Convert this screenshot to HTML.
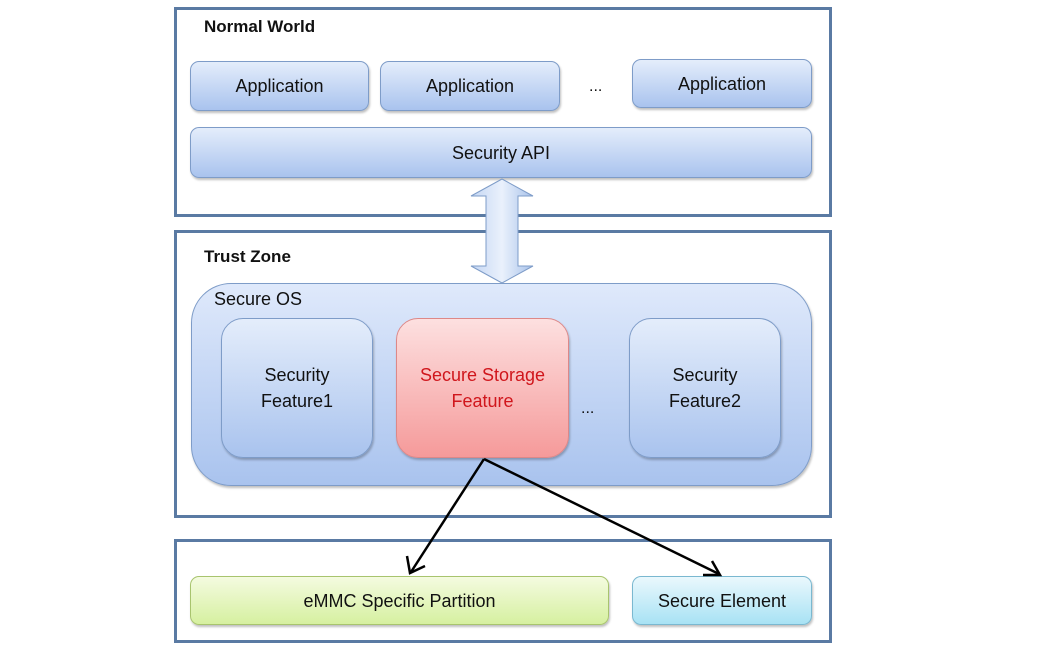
<!DOCTYPE html>
<html><head><style>
body{margin:0;background:#fff;width:1058px;height:650px;position:relative;overflow:hidden;font-family:"Liberation Sans",sans-serif;}
.frame{position:absolute;border:3px solid #5a7aa3;box-sizing:border-box;}
.t{position:absolute;font-weight:bold;font-size:17px;color:#111;}
.b{position:absolute;box-sizing:border-box;border:1px solid #7e9cc8;border-radius:9px;background:linear-gradient(#e4edfb,#a9c3ee);display:flex;align-items:center;justify-content:center;text-align:center;font-size:18px;color:#111;box-shadow:1px 2px 2px rgba(0,0,0,.25);line-height:26px;}
.dots{position:absolute;font-size:16px;color:#111;}
</style></head><body>
<div class="frame" style="left:174px;top:7px;width:658px;height:210px"></div>
<div class="frame" style="left:174px;top:230px;width:658px;height:288px"></div>
<div class="frame" style="left:174px;top:539px;width:658px;height:104px"></div>
<div class="t" style="left:204px;top:17px">Normal World</div>
<div class="t" style="left:204px;top:247px">Trust Zone</div>
<div class="b" style="left:190px;top:61px;width:179px;height:50px">Application</div>
<div class="b" style="left:380px;top:61px;width:180px;height:50px">Application</div>
<div class="dots" style="left:589px;top:78px">...</div>
<div class="b" style="left:632px;top:59px;width:180px;height:49px">Application</div>
<div class="b" style="left:190px;top:127px;width:622px;height:51px">Security API</div>
<div class="b" style="left:191px;top:283px;width:621px;height:203px;border-radius:40px;background:linear-gradient(#dfe9fb,#a9c3ee);"></div>
<div style="position:absolute;left:214px;top:289px;font-size:18px;color:#111">Secure OS</div>
<div class="b" style="left:221px;top:318px;width:152px;height:140px;border-radius:22px">Security<br>Feature1</div>
<div class="b" style="left:396px;top:318px;width:173px;height:140px;border-radius:22px;border-color:#d88;background:linear-gradient(#fde0e0,#f59a9a);color:#d0161c">Secure Storage<br>Feature</div>
<div class="dots" style="left:581px;top:400px">...</div>
<div class="b" style="left:629px;top:318px;width:152px;height:140px;border-radius:22px">Security<br>Feature2</div>
<div class="b" style="left:190px;top:576px;width:419px;height:49px;border-color:#a8c46e;background:linear-gradient(#f4fbe0,#d6f0a0)">eMMC Specific Partition</div>
<div class="b" style="left:632px;top:576px;width:180px;height:49px;border-color:#7ab8d0;background:linear-gradient(#eaf8fd,#a8e2f4)">Secure Element</div>
<svg style="position:absolute;left:0;top:0" width="1058" height="650">
<defs><linearGradient id="g" x1="0" x2="1"><stop offset="0" stop-color="#c4d6f3"/><stop offset="0.5" stop-color="#eaf1fc"/><stop offset="1" stop-color="#a8c2ea"/></linearGradient></defs>
<polygon points="502,179 533,196 518,196 518,266 533,266 502,283 471,266 486,266 486,196 471,196" fill="url(#g)" stroke="#7e9cc8" stroke-width="1"/>
<g stroke="#000" stroke-width="2.5" fill="none">
<line x1="484" y1="459" x2="411" y2="572"/>
<polyline points="407,556 410,573 425,566"/>
<line x1="484" y1="459" x2="719" y2="574"/>
<polyline points="703,575 720,575 712,561"/>
</g>
</svg>
</body></html>
